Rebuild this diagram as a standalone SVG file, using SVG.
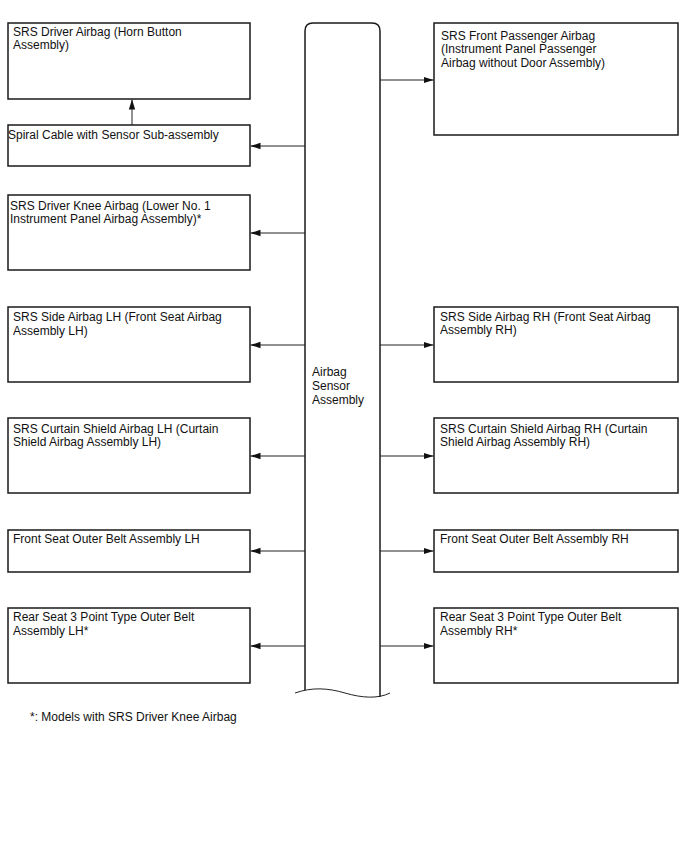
<svg xmlns="http://www.w3.org/2000/svg" width="688" height="852" viewBox="0 0 688 852">
<style>
.box{fill:#fff;stroke:#1a1a1a;stroke-width:1.5}
.ln{fill:none;stroke:#222;stroke-width:1}
text{font-family:"Liberation Sans",Arial,sans-serif;font-size:12px;fill:#111}
</style>
<defs>
<marker id="ah" markerWidth="10" markerHeight="8" refX="10" refY="4" orient="auto" markerUnits="userSpaceOnUse">
<path d="M0,0.8 L10,4 L0,7.2 Z" fill="#111"/>
</marker>
</defs>
<rect width="688" height="852" fill="#fff"/>
<g id="sensor">
<path class="box" d="M305,690 L305,31 Q305,23 313,23 L372,23 Q380,23 380,31 L380,697"/>
<path class="ln" d="M295,693 C312,687 328,688 345,693 C362,698 378,699 390,693" stroke="#555"/>
<text x="312" y="376">Airbag</text>
<text x="312" y="390">Sensor</text>
<text x="312" y="404">Assembly</text>
</g>
<g id="driver-airbag">
<rect class="box" x="8" y="23" width="242" height="76"/>
<text x="13" y="35.5">SRS Driver Airbag (Horn Button</text>
<text x="13" y="49">Assembly)</text>
</g>
<g id="spiral-cable">
<rect class="box" x="8" y="125" width="242" height="41"/>
<text x="8" y="139">Spiral Cable with Sensor Sub-assembly</text>
</g>
<g id="knee-airbag">
<rect class="box" x="8" y="195" width="242" height="75"/>
<text x="10" y="210">SRS Driver Knee Airbag (Lower No. 1</text>
<text x="10" y="223">Instrument Panel Airbag Assembly)*</text>
</g>
<g id="side-lh">
<rect class="box" x="8" y="307" width="242" height="75"/>
<text x="13" y="321">SRS Side Airbag LH (Front Seat Airbag</text>
<text x="13" y="334.5">Assembly LH)</text>
</g>
<g id="curtain-lh">
<rect class="box" x="8" y="418" width="242" height="75"/>
<text x="13" y="432.5">SRS Curtain Shield Airbag LH (Curtain</text>
<text x="13" y="446">Shield Airbag Assembly LH)</text>
</g>
<g id="belt-lh">
<rect class="box" x="8" y="530" width="242" height="42"/>
<text x="13" y="542.5">Front Seat Outer Belt Assembly LH</text>
</g>
<g id="rear-belt-lh">
<rect class="box" x="8" y="608" width="242" height="75"/>
<text x="13" y="621">Rear Seat 3 Point Type Outer Belt</text>
<text x="13" y="634.5">Assembly LH*</text>
</g>
<g id="passenger-airbag">
<rect class="box" x="434" y="23" width="244" height="112"/>
<text x="441" y="39.5">SRS Front Passenger Airbag</text>
<text x="441" y="53">(Instrument Panel Passenger</text>
<text x="441" y="66.5">Airbag without Door Assembly)</text>
</g>
<g id="side-rh">
<rect class="box" x="434" y="307" width="244" height="75"/>
<text x="440" y="320.5">SRS Side Airbag RH (Front Seat Airbag</text>
<text x="440" y="334">Assembly RH)</text>
</g>
<g id="curtain-rh">
<rect class="box" x="434" y="418" width="244" height="75"/>
<text x="440" y="432.5">SRS Curtain Shield Airbag RH (Curtain</text>
<text x="440" y="446">Shield Airbag Assembly RH)</text>
</g>
<g id="belt-rh">
<rect class="box" x="434" y="530" width="244" height="42"/>
<text x="440" y="542.5">Front Seat Outer Belt Assembly RH</text>
</g>
<g id="rear-belt-rh">
<rect class="box" x="434" y="608" width="244" height="75"/>
<text x="440" y="621">Rear Seat 3 Point Type Outer Belt</text>
<text x="440" y="634.5">Assembly RH*</text>
</g>
<g id="connectors">
<line class="ln" x1="132" y1="125" x2="132" y2="99.5" marker-end="url(#ah)"/>
<line class="ln" x1="305" y1="146" x2="250.5" y2="146" marker-end="url(#ah)"/>
<line class="ln" x1="305" y1="233" x2="250.5" y2="233" marker-end="url(#ah)"/>
<line class="ln" x1="305" y1="345" x2="250.5" y2="345" marker-end="url(#ah)"/>
<line class="ln" x1="305" y1="456" x2="250.5" y2="456" marker-end="url(#ah)"/>
<line class="ln" x1="305" y1="551" x2="250.5" y2="551" marker-end="url(#ah)"/>
<line class="ln" x1="305" y1="646" x2="250.5" y2="646" marker-end="url(#ah)"/>
<line class="ln" x1="380" y1="80" x2="433.5" y2="80" marker-end="url(#ah)"/>
<line class="ln" x1="380" y1="345" x2="433.5" y2="345" marker-end="url(#ah)"/>
<line class="ln" x1="380" y1="456" x2="433.5" y2="456" marker-end="url(#ah)"/>
<line class="ln" x1="380" y1="551" x2="433.5" y2="551" marker-end="url(#ah)"/>
<line class="ln" x1="380" y1="646" x2="433.5" y2="646" marker-end="url(#ah)"/>
</g>
<text x="30" y="721">*: Models with SRS Driver Knee Airbag</text>
</svg>
